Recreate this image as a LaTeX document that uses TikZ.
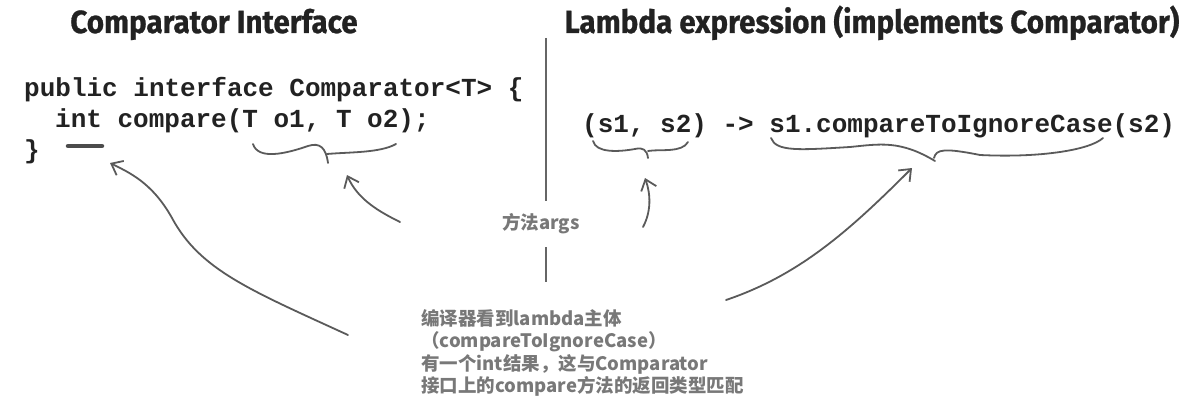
\documentclass[tikz,border=0pt]{standalone}
\usepackage{fontspec}
\setmonofont{Liberation Mono}
\newfontfamily\titlefont[FakeStretch=0.925, FakeBold=0.8]{Fira Sans}
\newfontfamily\notefont{Noto Sans CJK SC}
\usetikzlibrary{arrows.meta}
\definecolor{cdInk}{HTML}{222222}
\definecolor{cdPen}{HTML}{5A5A5A}
\definecolor{cdNote}{HTML}{787878}
\definecolor{cdRule}{HTML}{666666}

\begin{document}
\begin{tikzpicture}[x=1pt, y=-1pt,
  title/.style={font=\titlefont\bfseries\fontsize{32}{34}\selectfont, text=cdInk, inner sep=0pt, anchor=base},
  code/.style={font=\ttfamily\bfseries\fontsize{26}{31}\selectfont, text=cdInk, inner sep=0pt, anchor=base west},
  note/.style={font=\notefont\bfseries\fontsize{18.5}{22.5}\selectfont, text=cdNote, inner sep=0pt, align=left},
  pen/.style={draw=cdPen, line width=1.8pt, line cap=round, line join=round},
  handarrow/.style={pen, -{Straight Barb[length=10pt, width=16pt]}}]
  \useasboundingbox (0,0) rectangle (1186,417);

  % headings
  \node[title] (ifTitle) at (214,33) {Comparator Interface};
  \node[title] (lbTitle) at (872,33) {Lambda expression (implements Comparator)};

  % code
  \node[code] (ifHead) at (24,97) {public interface Comparator<T> \{};
  \node[code] (ifMethod) at (55,128) {int compare(T o1, T o2);};
  \node[code] (ifClose) at (24,159) {\}};
  \node[code] (lambda) at (582,133) {(s1, s2) -> s1.compareToIgnoreCase(s2)};

  % notes
  \node[note, inner sep=6pt, minimum height=46pt] (args) at (541,224) {方法args};
  \node[note, anchor=north west] (body) at (421,309)
    {编译器看到lambda主体\\（compareToIgnoreCase）\\有一个int结果，这与Comparator\\接口上的compare方法的返回类型匹配};

  % divider
  \coordinate (divTop) at (546,38);
  \coordinate (divBot) at (546,282);
  \draw[cdRule, line width=1.8pt] (divTop) -- (divTop |- args.north);
  \draw[cdRule, line width=1.8pt] (divTop |- args.south) -- (divBot);

  % braces
  \draw[pen] (253,144) .. controls (258,160) and (285,154) .. (308,146)
    .. controls (320,142) and (326,148) .. (328,163);
  \draw[pen] (327,154) .. controls (350,152) and (380,153) .. (396,144);
  \draw[pen] (593,141) .. controls (596,153) and (618,152) .. (635,149)
    .. controls (643,147) and (647,150) .. (648,158);
  \draw[pen] (648,151) .. controls (660,149) and (682,153) .. (688,142);
  \draw[pen] (771,138) .. controls (776,152) and (800,150) .. (850,147)
    .. controls (880,144) and (900,140) .. (935,161);
  \draw[pen] (934,158) .. controls (936,149) and (945,148) .. (980,155)
    .. controls (1040,158) and (1090,150) .. (1103,138);
  \draw[pen, line width=4.5pt, draw=cdPen!85!black] (68,146) -- (102,146);

  % arrows
  \coordinate (intTip) at (110,163);
  \coordinate (intTail) at (348,335);
  \coordinate (parTip) at (347,175);
  \coordinate (parTail) at (400,222);
  \coordinate (sTip) at (645,178);
  \coordinate (sTail) at (643,227);
  \coordinate (bodyTip) at (912,168);
  \coordinate (bodyTail) at (726,300);
  \draw[handarrow] (intTail) .. controls (250,290) and (200,270) .. (172,218)
    .. controls (152,182) and (128,172) .. (intTip);
  \draw[handarrow] (parTail) .. controls (380,212) and (358,200) .. (parTip);
  \draw[handarrow] (sTail) .. controls (651,212) and (651,195) .. (sTip);
  \draw[handarrow] (bodyTail) .. controls (800,275) and (850,230) .. (bodyTip);
\end{tikzpicture}
\end{document}
